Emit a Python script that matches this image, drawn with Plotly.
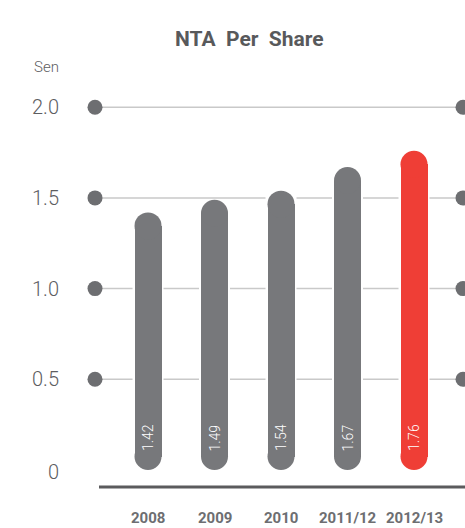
import plotly.graph_objects as go

categories = ["2008", "2009", "2010", "2011/12", "2012/13"]
values = [1.42, 1.49, 1.54, 1.67, 1.76]
bar_colors = ["#77787b", "#77787b", "#77787b", "#77787b", "#ef3e36"]
ytick_vals = [0, 0.5, 1.0, 1.5, 2.0]
ytick_text = ["0", "0.5", "1.0", "1.5", "2.0"]

W, H = 465, 528
XR = [-2.226, 4.767]
YR = [-0.3197, 2.591]
XPX = W / (XR[1] - XR[0])   # px per x unit
YPX = H / (YR[1] - YR[0])   # px per y unit

def px_to_x(px):
    return XR[0] + px / XPX

def py_to_y(py):
    return YR[1] - py / YPX

xs = list(range(len(categories)))
BAR_PX = 27
bar_w = BAR_PX / XPX
r = (BAR_PX / 2) / YPX
gap = (BAR_PX / 2 + 2) / XPX

fig = go.Figure()

# gridlines, broken around bars that cross them
grid_x0 = px_to_x(95)
grid_x1 = px_to_x(463)
for lvl in ytick_vals[1:]:
    xs_break = [x for x, v in zip(xs, values) if v >= lvl]
    start = grid_x0
    for x in xs_break:
        fig.add_shape(type="line", x0=start, x1=x - gap, y0=lvl, y1=lvl,
                      line=dict(color="#c9c9c9", width=1.5), layer="below")
        start = x + gap
    fig.add_shape(type="line", x0=start, x1=grid_x1, y0=lvl, y1=lvl,
                  line=dict(color="#c9c9c9", width=1.5), layer="below")

dot_x, dot_y = [], []
for lvl in ytick_vals[1:]:
    dot_x += [grid_x0, grid_x1]
    dot_y += [lvl, lvl]
fig.add_trace(go.Scatter(x=dot_x, y=dot_y, mode="markers",
                         marker=dict(size=15, color="#6d6e71", line=dict(width=0)),
                         hoverinfo="skip", showlegend=False, cliponaxis=False))

# pill bars: straight body + round caps
fig.add_trace(go.Bar(x=xs, y=[v - 2 * r for v in values], base=[r] * len(values),
                     width=bar_w, marker=dict(color=bar_colors, line=dict(width=0)),
                     showlegend=False, hoverinfo="skip"))
cap_x = xs + xs
cap_y = [r] * len(values) + [v - r for v in values]
fig.add_trace(go.Scatter(x=cap_x, y=cap_y, mode="markers",
                         marker=dict(size=BAR_PX, color=bar_colors + bar_colors, line=dict(width=0)),
                         hoverinfo="skip", showlegend=False))

for x, v in zip(xs, values):
    fig.add_annotation(x=x, y=py_to_y(438), text=f"{v:.2f}", textangle=-90,
                       showarrow=False, font=dict(family="Roboto", size=14, color="white", weight=300))

for x, c in zip(xs, categories):
    fig.add_annotation(x=x, y=py_to_y(518), text=f"<b>{c}</b>", showarrow=False,
                       font=dict(family="Roboto", size=15, color="#6d6e71"))

for v, t in zip(ytick_vals, ytick_text):
    yy = v if v > 0 else py_to_y(472)
    fig.add_annotation(x=px_to_x(61), y=yy, text=t, showarrow=False, xanchor="right",
                       font=dict(family="Roboto", size=20, color="#5d5d5f", weight=300))

fig.add_annotation(x=px_to_x(61), y=py_to_y(67), text="Sen", showarrow=False, xanchor="right",
                   font=dict(family="Roboto", size=15, color="#5d5d5f", weight=300))

fig.add_shape(type="line", x0=px_to_x(99), x1=px_to_x(470), y0=py_to_y(487), y1=py_to_y(487),
              line=dict(color="#5b5b5d", width=3))

fig.add_annotation(xref="paper", yref="paper", x=249 / W, y=1 - 25 / H,
                   text="<b>NTA  Per  Share</b>", showarrow=False,
                   font=dict(family="Roboto", size=21, color="#58595b"))

fig.update_layout(
    width=W, height=H, autosize=False,
    margin=dict(l=0, r=0, t=0, b=0),
    paper_bgcolor="white", plot_bgcolor="white",
    barmode="overlay", bargap=0,
    xaxis=dict(range=XR, visible=False, fixedrange=True),
    yaxis=dict(range=YR, visible=False, fixedrange=True),
    showlegend=False,
)

fig.write_html("out.html")
